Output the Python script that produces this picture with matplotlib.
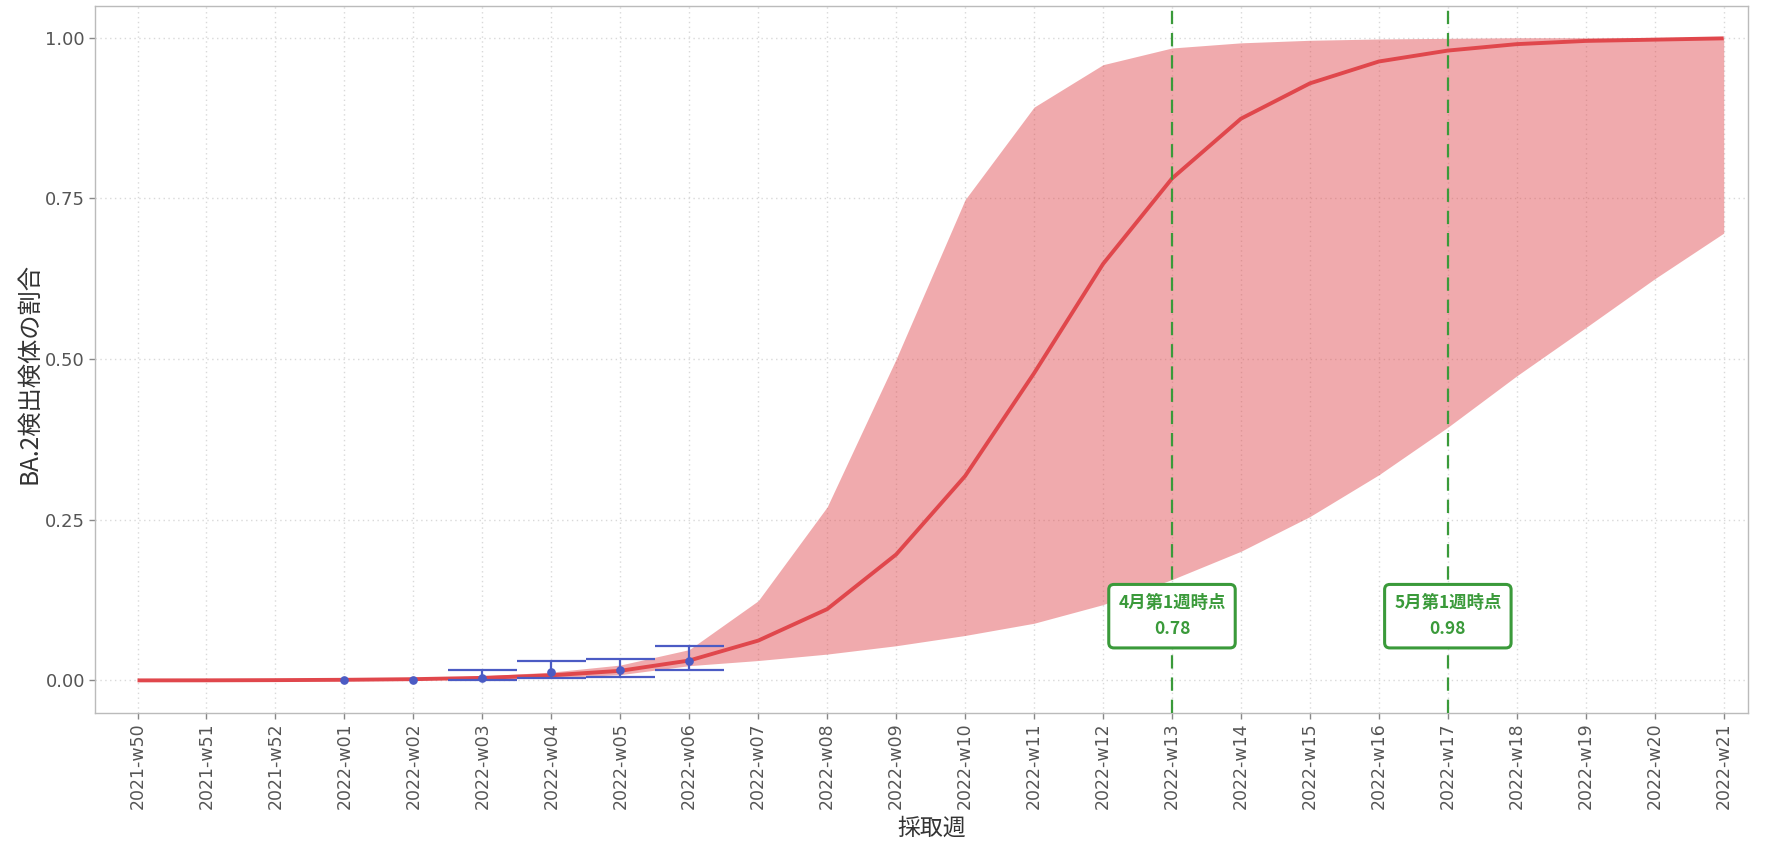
import matplotlib
matplotlib.use("Agg")
import matplotlib.pyplot as plt
import numpy as np

plt.rcParams['font.family'] = ['DejaVu Sans', 'Noto Sans CJK JP']

weeks = ['2021-w50', '2021-w51', '2021-w52',
         '2022-w01', '2022-w02', '2022-w03', '2022-w04', '2022-w05', '2022-w06',
         '2022-w07', '2022-w08', '2022-w09', '2022-w10', '2022-w11', '2022-w12',
         '2022-w13', '2022-w14', '2022-w15', '2022-w16', '2022-w17', '2022-w18',
         '2022-w19', '2022-w20', '2022-w21']

median = [0.0001, 0.0002, 0.0005, 0.001, 0.002, 0.004, 0.008, 0.015, 0.031,
          0.062, 0.111, 0.196, 0.318, 0.478, 0.648, 0.781, 0.874, 0.929, 0.963,
          0.980, 0.990, 0.995, 0.997, 0.999]
lower = [0.00005, 0.0001, 0.0002, 0.0005, 0.001, 0.002, 0.004, 0.009, 0.023,
         0.031, 0.041, 0.054, 0.070, 0.089, 0.118, 0.157, 0.201, 0.255, 0.320,
         0.394, 0.474, 0.549, 0.625, 0.696]
upper = [0.0002, 0.0004, 0.001, 0.002, 0.004, 0.007, 0.013, 0.024, 0.048,
         0.124, 0.270, 0.500, 0.748, 0.892, 0.958, 0.984, 0.992, 0.996, 0.998,
         0.999, 1.0, 1.0, 1.0, 1.0]

obs_weeks = ['2022-w01', '2022-w02', '2022-w03', '2022-w04', '2022-w05', '2022-w06']
obs_val = [0.0, 0.0, 0.004, 0.013, 0.017, 0.031]
err_weeks = ['2022-w03', '2022-w04', '2022-w05', '2022-w06']
err_lo = [0.001, 0.0036, 0.0057, 0.017]
err_hi = [0.017, 0.030, 0.033, 0.053]

mark_weeks = ['2022-w13', '2022-w17']
mark_labels = ['4月第1週時点\n0.78', '5月第1週時点\n0.98']
mark_y = 0.10

red = '#E0474C'
blue = '#4B5BC4'
green = '#3A9A3A'
grid_c = '#D9D9D9'
text_c = '#555555'

idx = {w: i for i, w in enumerate(weeks)}
x = np.arange(len(weeks))

fig = plt.figure(figsize=(17.68, 8.44), dpi=100)
ax = fig.add_axes([0.0536, 0.1557, 0.935, 0.8377])

ax.fill_between(x, lower, upper, color=red, alpha=0.46, linewidth=0, zorder=2)
ax.plot(x, median, color=red, lw=2.8, zorder=3, solid_capstyle='butt')

ex = np.array([idx[w] for w in err_weeks])
ax.hlines(err_lo, ex - 0.5, ex + 0.5, color=blue, lw=1.6, zorder=4)
ax.hlines(err_hi, ex - 0.5, ex + 0.5, color=blue, lw=1.6, zorder=4)
ax.vlines(ex, err_lo, err_hi, color=blue, lw=1.6, zorder=4)
ox = [idx[w] for w in obs_weeks]
ax.plot(ox, obs_val, 'o', color=blue, ms=5.2, zorder=5, linestyle='none')

for w, lab in zip(mark_weeks, mark_labels):
    ax.axvline(idx[w], color=green, lw=1.6, ls=(0, (6, 4)), zorder=6)
    ax.text(idx[w], mark_y, lab, ha='center', va='center', color=green,
            fontsize=12.5, fontweight='bold', linespacing=1.6,
            family=['Noto Sans CJK JP', 'DejaVu Sans'], zorder=7,
            bbox=dict(boxstyle='round,pad=0.55,rounding_size=0.3', fc='white',
                      ec=green, lw=2.2))

ax.set_xlim(-0.62, 23.35)
ax.set_ylim(-0.05, 1.05)
ax.set_xticks(x)
ax.set_xticklabels(weeks, rotation=90, fontsize=12.5, color=text_c)
ax.set_yticks([0, 0.25, 0.5, 0.75, 1.0])
ax.set_yticklabels(['0.00', '0.25', '0.50', '0.75', '1.00'], fontsize=13, color=text_c)
ax.tick_params(axis='both', length=4, width=1, color='#888888', pad=3)

ax.grid(True, color=grid_c, lw=1.0, ls=(0, (1, 2.5)), zorder=0)
ax.set_axisbelow(True)
for s in ax.spines.values():
    s.set_color('#BBBBBB')
    s.set_linewidth(1.0)

ax.set_ylabel('BA.2検出検体の割合', fontsize=17.5, color='#333333',
              family=['Noto Sans CJK JP', 'DejaVu Sans'])
ax.yaxis.label.set_va('center')
ax.yaxis.set_label_coords(-0.0395, 0.48)
ax.set_xlabel('採取週', fontsize=16.5, color='#333333',
              family=['Noto Sans CJK JP', 'DejaVu Sans'])
ax.xaxis.label.set_va('center')
ax.xaxis.set_label_coords(0.506, -0.164)

fig.savefig('out.png', dpi=100, facecolor='white')
